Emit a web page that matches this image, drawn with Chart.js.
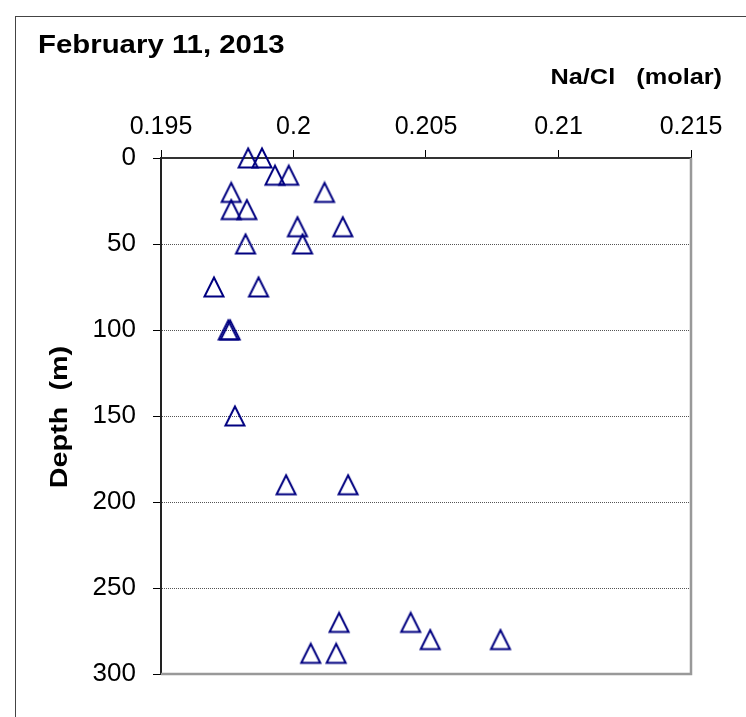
<!DOCTYPE html>
<html>
<head>
<meta charset="utf-8">
<script src="https://cdn.jsdelivr.net/npm/chart.js@4"></script>
<style>
  html, body { margin: 0; padding: 0; background: #fff; }
  canvas { display: block; }
</style>
</head>
<body>
<canvas id="profile" width="746" height="717"></canvas>
<script>
const DEPTHS = [0, 0, 10, 10, 20, 20, 30, 30, 40, 40, 50, 50, 75, 75, 100, 100, 150, 190, 190, 270, 270, 280, 280, 288, 288];
const NA_CL  = [0.19829, 0.19881, 0.1993, 0.19982, 0.19765, 0.20117, 0.19765, 0.19824, 0.20015, 0.20186,
                0.19819, 0.20034, 0.1970, 0.19868, 0.19754, 0.19761, 0.19779, 0.19972, 0.20206,
                0.20172, 0.20442, 0.20516, 0.20781, 0.20065, 0.20161];
const X_TICKS = [0.195, 0.2, 0.205, 0.21, 0.215];
const Y_TICKS = [0, 50, 100, 150, 200, 250, 300];

const TITLE   = 'February 11, 2013';
const X_TITLE = 'Na/Cl   (molar)';
const Y_TITLE = 'Depth  (m)';

const NAVY = '#000080';
const FONT = 'Arial, "Liberation Sans", sans-serif';

// open triangle, centred on the point like the spreadsheet marker
function triangleMarker() {
  const c = document.createElement('canvas');
  c.width = 24; c.height = 24;
  const g = c.getContext('2d');
  g.strokeStyle = NAVY;
  g.lineWidth = 2;
  g.beginPath();
  g.moveTo(12, 2.5);
  g.lineTo(21.5, 21.5);
  g.lineTo(2.5, 21.5);
  g.closePath();
  g.stroke();
  return c;
}

function wideText(ctx, text, x, y, sx, align) {
  ctx.save();
  ctx.translate(x, y);
  ctx.scale(sx, 1);
  ctx.textAlign = align;
  ctx.fillText(text, 0, 0);
  ctx.restore();
}

const decorations = {
  id: 'decorations',
  beforeDraw(chart) {
    const ctx = chart.ctx;
    ctx.save();
    ctx.fillStyle = '#fff';
    ctx.fillRect(0, 0, chart.width, chart.height);
    ctx.strokeStyle = '#444';
    ctx.lineWidth = 1;
    ctx.strokeRect(15.5, 16.5, 900, 900);
    ctx.restore();
  },
  afterDraw(chart) {
    const { ctx, chartArea: a } = chart;
    ctx.save();
    ctx.strokeStyle = '#999';
    ctx.lineWidth = 2.5;
    ctx.beginPath();
    ctx.moveTo(a.right, a.top);
    ctx.lineTo(a.right, a.bottom);
    ctx.lineTo(a.left, a.bottom);
    ctx.stroke();

    ctx.fillStyle = '#000';
    ctx.textBaseline = 'alphabetic';
    ctx.font = 'bold 26px ' + FONT;
    wideText(ctx, TITLE, 38, 53, 1.13, 'left');
    ctx.font = 'bold 22px ' + FONT;
    wideText(ctx, X_TITLE, 722, 84, 1.15, 'right');

    ctx.translate(60, 417);
    ctx.rotate(-Math.PI / 2);
    ctx.font = 'bold 24px ' + FONT;
    ctx.textBaseline = 'middle';
    wideText(ctx, Y_TITLE, 0, 0, 1.2, 'center');
    ctx.restore();
  }
};

const points = DEPTHS.map((d, i) => ({ x: NA_CL[i], y: d }));

new Chart(document.getElementById('profile'), {
  type: 'scatter',
  data: {
    datasets: [{
      label: 'Na/Cl',
      data: points,
      pointStyle: triangleMarker(),
      pointRadius: 10,
      pointHoverRadius: 10,
      clip: false,
    }]
  },
  options: {
    responsive: false,
    animation: false,
    events: [],
    layout: { padding: { left: 0, top: 0, right: 55, bottom: 43 } },
    plugins: {
      legend: { display: false },
      tooltip: { enabled: false },
    },
    scales: {
      x: {
        type: 'linear',
        position: 'top',
        min: 0.195,
        max: 0.215,
        afterBuildTicks: s => { s.ticks = X_TICKS.map(v => ({ value: v })); },
        afterFit: s => { s.height = 158; },
        ticks: {
          color: '#000',
          font: { family: FONT, size: 25 },
          padding: 8,
          maxRotation: 0,
          callback: v => String(+v.toFixed(3)),
        },
        grid: { drawOnChartArea: false, tickLength: 8, color: '#000', lineWidth: 1 },
        border: { color: '#333', width: 2 },
      },
      y: {
        type: 'linear',
        reverse: true,
        min: 0,
        max: 300,
        afterBuildTicks: s => { s.ticks = Y_TICKS.map(v => ({ value: v })); },
        afterFit: s => { s.width = 161; },
        ticks: {
          color: '#000',
          font: { family: FONT, size: 26 },
          padding: 17,
        },
        grid: {
          tickLength: 8,
          tickColor: '#000',
          lineWidth: 1,
          color: c => (c.tick && (c.tick.value === 0 || c.tick.value === 300)) ? 'rgba(0,0,0,0)' : '#555',
        },
        border: { color: '#222', width: 2, dash: [1, 1] },
      }
    }
  },
  plugins: [decorations]
});
</script>
</body>
</html>
